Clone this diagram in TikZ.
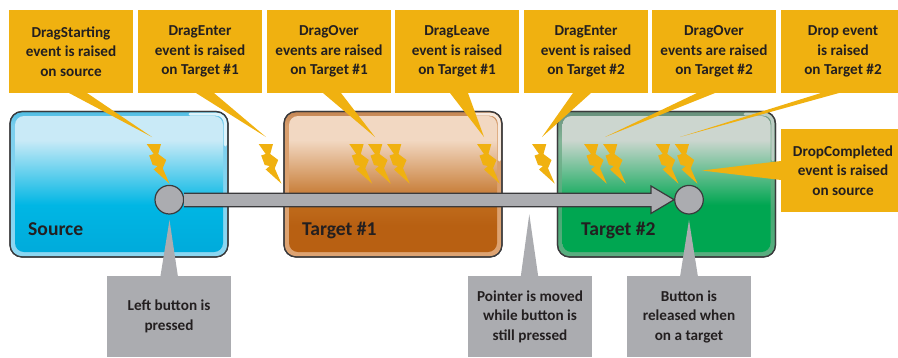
\documentclass[tikz,border=0pt]{standalone}
\usepackage{fontspec}
\setmainfont{Carlito}
\definecolor{evt}{HTML}{F0B110}
\definecolor{act}{HTML}{ABACB0}
\definecolor{ink}{HTML}{231F20}
\definecolor{edge}{HTML}{3A3A3C}
\definecolor{sa}{HTML}{00ABDB}\definecolor{sb}{HTML}{00B6E4}\definecolor{sc}{HTML}{C9EAF7}
\definecolor{oa}{HTML}{B86012}\definecolor{ob}{HTML}{BF6B1C}\definecolor{oc}{HTML}{F2D8C2}
\definecolor{ta}{HTML}{00A651}\definecolor{tb}{HTML}{00A651}\definecolor{tc}{HTML}{CCD6CF}
\definecolor{sr1}{HTML}{96DBF3}\definecolor{sr2}{HTML}{7CCFEE}\definecolor{sr3}{HTML}{50BEE4}
\definecolor{or1}{HTML}{E0A674}\definecolor{or2}{HTML}{D99F6E}\definecolor{or3}{HTML}{C48654}
\definecolor{tr1}{HTML}{7DB496}\definecolor{tr2}{HTML}{46AA73}\definecolor{tr3}{HTML}{82B496}\definecolor{tr4}{HTML}{69917D}
\definecolor{sglint}{HTML}{DDF3FB}\definecolor{oglint}{HTML}{F7E9DD}\definecolor{tglint}{HTML}{BCCDC3}
\pgfdeclareverticalshading{srcinner}{100bp}{color(0bp)=(sa);color(25bp)=(sa);color(42.3bp)=(sb);color(66.2bp)=(sc);color(100bp)=(sc)}
\pgfdeclareverticalshading{oneinner}{100bp}{color(0bp)=(oa);color(34.9bp)=(oa);color(42.3bp)=(ob);color(66.2bp)=(oc);color(100bp)=(oc)}
\pgfdeclareverticalshading{twoinner}{100bp}{color(0bp)=(ta);color(25bp)=(ta);color(42.3bp)=(tb);color(66.2bp)=(tc);color(100bp)=(tc)}
\pgfdeclareverticalshading{srcring}{100bp}{color(0bp)=(sr1);color(70bp)=(sr2);color(75bp)=(sr3);color(100bp)=(sr3)}
\pgfdeclareverticalshading{onering}{100bp}{color(0bp)=(or1);color(70bp)=(or2);color(75bp)=(or3);color(100bp)=(or3)}
\pgfdeclareverticalshading{tworing}{100bp}{color(0bp)=(tr1);color(40bp)=(tr2);color(65bp)=(tr3);color(75bp)=(tr4);color(100bp)=(tr4)}
\tikzset{
  x=1pt,y=-1pt,
  lab/.style={inner sep=0pt,outer sep=0pt,anchor=north west,minimum width=124pt,minimum height=83pt,align=center,text=ink,font=\fontsize{15.2}{19.5}\selectfont\bfseries},
  evbox/.style={lab,fill=evt},
  acbox/.style={lab,fill=act,minimum height=81pt},
  evtail/.style={fill=evt},
  actail/.style={fill=act},
  zone/.style={draw=edge,line width=1.2pt,rounded corners=12pt},
  zonein/.style={rounded corners=9pt},
  glint/.style={line width=3pt,rounded corners=9pt,line cap=round},
  zonetitle/.style={inner sep=0pt,anchor=base west,text=ink,font=\fontsize{19.6}{22}\selectfont\bfseries},
  knob/.style={circle,draw=edge,fill=act,line width=1.2pt,minimum size=28.6pt,inner sep=0pt},
  pointerarrow/.style={draw=edge,fill=act,line width=1.2pt,line join=miter}
}
\newcommand\boltat[2]{\fill[evt,shift={(#1,#2)}] (0,0) -- (14.3,0) -- (11.5,10) -- (19.5,16) -- (16,24.3) -- (22.8,39.7) -- (7,25.5) -- (11,22) -- (6,21) -- (2.5,11.5) -- (7,10) -- cycle;}
\begin{document}
\begin{tikzpicture}
\useasboundingbox (0,0) rectangle (898,357);
% zones
\path[shading=srcring,zone] (10,111.5) rectangle (228,257);
\path[shading=srcinner,zonein] (15,116) rectangle (223,252);
\path[shading=onering,zone] (284,111.5) rectangle (502,257);
\path[shading=oneinner,zonein] (289,116) rectangle (497,252);
\path[shading=tworing,zone] (557.5,111.5) rectangle (775.5,257);
\path[shading=twoinner,zonein] (562.5,116) rectangle (770.5,252);
\draw[glint,sglint] (190,114.2) -- (225.3,114.2) -- (225.3,145);
\draw[glint,oglint] (470,114.2) -- (499.3,114.2) -- (499.3,160);
\draw[glint,tglint] (745,114.2) -- (772.8,114.2) -- (772.8,160);
\draw[zone] (10,111.5) rectangle (228,257);
\draw[zone] (284,111.5) rectangle (502,257);
\draw[zone] (557.5,111.5) rectangle (775.5,257);
\node[zonetitle] (src) at (28,235) {Source};
\node[zonetitle] (one) at (302,235) {Target \#1};
\node[zonetitle] (two) at (581,235) {Target \#2};
% event labels
\node[evbox] (e1) at (9,10) {DragStarting\\event is raised\\on source};
\node[evbox] (e2) at (138,10) {DragEnter\\event is raised\\on Target \#1};
\node[evbox] (e3) at (267,10) {DragOver\\events are raised\\on Target \#1};
\node[evbox] (e4) at (395,10) {DragLeave\\event is raised\\on Target \#1};
\node[evbox] (e5) at (524,10) {DragEnter\\event is raised\\on Target \#2};
\node[evbox] (e6) at (652,10) {DragOver\\events are raised\\on Target \#2};
\node[evbox] (e7) at (781,10) {Drop event\\is raised\\on Target \#2};
\node[evbox] (e8) at (781,129) {DropCompleted\\event is raised\\on source};
% tips
\coordinate (t1) at (152,137);
\coordinate (t2) at (266,137);
\coordinate (t3) at (375,137);
\coordinate (t4) at (484,137);
\coordinate (t5) at (542,137);
\coordinate (t6) at (605,137);
\coordinate (t7) at (680,137);
\coordinate (t8) at (702,170.5);
\fill[evtail] (69,93) -- (t1) -- (87,93) -- cycle;
\fill[evtail] (196,93) -- (t2) -- (214,93) -- cycle;
\fill[evtail] (323,93) -- (t3) -- (341,93) -- cycle;
\fill[evtail] (450,93) -- (t4) -- (468,93) -- cycle;
\fill[evtail] (573,93) -- (t5) -- (591,93) -- cycle;
\fill[evtail] (697,93) -- (t6) -- (715,93) -- cycle;
\fill[evtail] (821,93) -- (t7) -- (839,93) -- cycle;
\fill[evtail] (781,161) -- (t8) -- (781,180) -- cycle;
% bolts
\boltat{146.7}{144}
\boltat{258.7}{144}
\boltat{349.3}{144}
\boltat{368}{144}
\boltat{387}{144}
\boltat{477}{144}
\boltat{532}{144}
\boltat{584}{144}
\boltat{603}{144}
\boltat{655.7}{144}
\boltat{674.7}{144}
% action labels
\node[acbox] (a1) at (107,276) {Left button is\\pressed};
\node[acbox] (a2) at (468,276) {Pointer is moved\\while button is\\still pressed};
\node[acbox] (a3) at (627,276) {Button is\\released when\\on a target};
\coordinate (g1) at (169.5,220);
\coordinate (g2) at (529.3,214.3);
\coordinate (g3) at (689,220);
\fill[actail] (160.3,277) -- (g1) -- (178,277) -- cycle;
\fill[actail] (520.7,277) -- (g2) -- (538.3,277) -- cycle;
\fill[actail] (680,277) -- (g3) -- (698,277) -- cycle;
% pointer path
\node[knob] (k1) at (169.3,199.7) {};
\node[knob] (k2) at (689,199.7) {};
\draw[pointerarrow] (k1.east |- 0,193.3) -- (651,193.3) -- (651,186) -- (k2.west) -- (651,213.4) -- (651,206.7) -- (k1.east |- 0,206.7);
\end{tikzpicture}
\end{document}
